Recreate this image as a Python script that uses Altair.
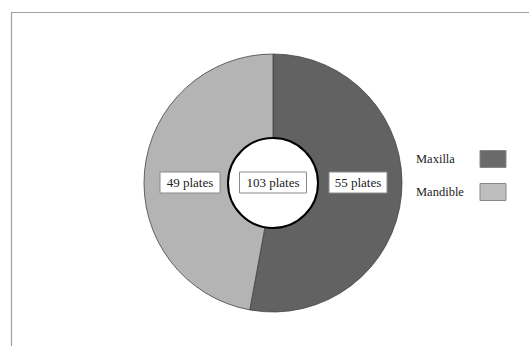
import altair as alt
import pandas as pd

categories = ["Maxilla", "Mandible"]
plates = [55, 49]
slice_labels = ["55 plates", "49 plates"]
total_label = "103 plates"
colors = ["#626262", "#b4b4b4"]
legend_colors = ["#6a6a6a", "#bebebe"]

W, H = 529, 346
CX, CY = 273, 183
R_OUT, R_IN = 129, 45
FONT = "Liberation Serif"

df = pd.DataFrame({"cat": categories, "n": plates, "order": [0, 1],
                   "label": slice_labels})

color_scale = alt.Scale(domain=categories, range=colors)

pie = alt.Chart(df).mark_arc(
    outerRadius=R_OUT, innerRadius=R_IN, stroke="#444", strokeWidth=0.8
).encode(
    theta=alt.Theta("n:Q", stack=True),
    color=alt.Color("cat:N", scale=color_scale, legend=None),
    order=alt.Order("order:Q"),
    x=alt.value(CX), y=alt.value(CY),
)

hole = alt.Chart(pd.DataFrame({"a": [0]})).mark_point(
    shape="circle", filled=True, fill="white", stroke="black", strokeWidth=2,
    size=(2 * R_IN) ** 2, opacity=1
).encode(x=alt.value(CX), y=alt.value(CY))

# label boxes: slice labels placed at mid-ring radius, right/left of centre
r_mid = (R_OUT + R_IN) / 2
box_w = [58, 60]
boxes = pd.DataFrame({
    "label": slice_labels + [total_label],
    "xc": [CX + r_mid - 2, CX - r_mid + 4, CX],
    "w": box_w + [67],
})
boxes["x"] = boxes["xc"] - boxes["w"] / 2
boxes["x2"] = boxes["xc"] + boxes["w"] / 2
boxes["y"] = CY - 11
boxes["y2"] = CY + 10

box_rects = alt.Chart(boxes).mark_rect(
    fill="white", stroke="#8a8a8a", strokeWidth=1
).encode(
    x=alt.X("x:Q", scale=None), x2="x2:Q",
    y=alt.Y("y:Q", scale=None), y2="y2:Q",
)
box_text = alt.Chart(boxes).mark_text(
    font=FONT, fontSize=13, color="#222", baseline="middle"
).encode(
    x=alt.X("xc:Q", scale=None), y=alt.value(CY), text="label:N"
)

# manual legend (label left of swatch)
leg = pd.DataFrame({"cat": categories, "col": legend_colors,
                    "yc": [159, 192]})
leg["y"] = leg["yc"] - 8.5
leg["y2"] = leg["yc"] + 8.5
leg_text = alt.Chart(leg).mark_text(
    font=FONT, fontSize=12.5, color="#222", align="left", baseline="middle"
).encode(x=alt.value(416), y=alt.Y("yc:Q", scale=None), text="cat:N")
leg_sw = alt.Chart(leg).mark_rect(stroke="#888", strokeWidth=1).encode(
    x=alt.value(480), x2=alt.value(506),
    y=alt.Y("y:Q", scale=None), y2="y2:Q",
    color=alt.Color("col:N", scale=None),
)

frame_top = alt.Chart(pd.DataFrame({"a": [0]})).mark_rule(
    color="#a0a0a0", strokeWidth=1.2
).encode(x=alt.value(11), x2=alt.value(W + 5), y=alt.value(12.5))
frame_left = alt.Chart(pd.DataFrame({"a": [0]})).mark_rule(
    color="#a0a0a0", strokeWidth=1.2
).encode(x=alt.value(11.5), y=alt.value(12), y2=alt.value(H + 5))

chart = alt.layer(
    frame_top, frame_left, pie, hole, box_rects, box_text, leg_text, leg_sw
).properties(
    width=W, height=H, padding=0, autosize="none", background="white"
).configure_view(stroke=None)

chart.save("out.html", embed_options={"renderer": "svg", "actions": False})
